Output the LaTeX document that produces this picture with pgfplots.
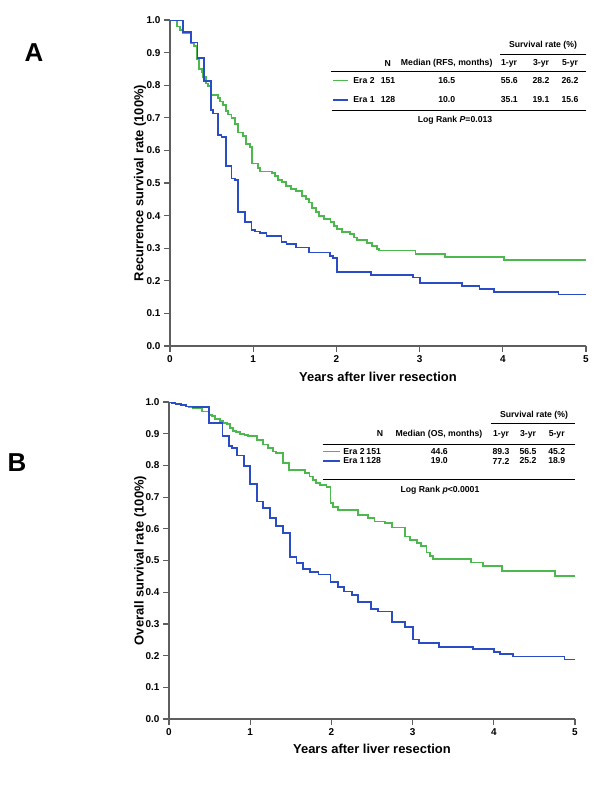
\documentclass[border=0pt]{standalone}
\usepackage{fontspec}
\setmainfont{Liberation Sans}
\usepackage{pgfplots}
\pgfplotsset{compat=1.18}

\definecolor{eratwo}{HTML}{4DB84E}
\definecolor{eraone}{HTML}{2A4CC6}
\definecolor{axgray}{HTML}{5E5E5E}

% Kaplan-Meier estimates: time (years), survival
\pgfplotstableread{
t s
0 1.000
0.08 0.980
0.12 0.970
0.16 0.960
0.25 0.930
0.29 0.920
0.32 0.880
0.35 0.850
0.38 0.840
0.40 0.825
0.43 0.805
0.46 0.797
0.49 0.770
0.58 0.760
0.60 0.750
0.64 0.740
0.67 0.720
0.70 0.710
0.74 0.700
0.78 0.680
0.82 0.655
0.88 0.645
0.91 0.620
0.96 0.610
0.99 0.560
1.06 0.546
1.08 0.535
1.23 0.530
1.26 0.521
1.30 0.508
1.35 0.503
1.39 0.490
1.45 0.482
1.51 0.475
1.59 0.460
1.63 0.452
1.67 0.440
1.71 0.424
1.75 0.410
1.79 0.398
1.85 0.390
1.93 0.380
1.97 0.368
2.01 0.358
2.07 0.350
2.16 0.343
2.21 0.333
2.25 0.325
2.37 0.317
2.43 0.307
2.49 0.297
2.51 0.293
2.95 0.283
3.31 0.274
4.01 0.264
5.00 0.264
}\rfstwo

\pgfplotstableread{
t s
0 1.000
0.16 0.962
0.25 0.931
0.33 0.883
0.41 0.812
0.49 0.723
0.52 0.713
0.58 0.648
0.62 0.640
0.67 0.551
0.74 0.514
0.78 0.509
0.82 0.412
0.90 0.381
0.98 0.356
1.02 0.351
1.08 0.346
1.16 0.337
1.34 0.319
1.40 0.312
1.51 0.302
1.67 0.287
1.92 0.276
1.96 0.271
2.01 0.227
2.42 0.219
2.92 0.210
3.00 0.193
3.51 0.185
3.72 0.176
3.89 0.166
4.67 0.158
5.00 0.158
}\rfsone

\pgfplotstableread{
t s
0 1.000
0.03 0.997
0.08 0.993
0.15 0.990
0.21 0.986
0.25 0.983
0.29 0.981
0.41 0.970
0.49 0.960
0.53 0.955
0.57 0.947
0.63 0.940
0.67 0.934
0.71 0.930
0.75 0.918
0.79 0.908
0.83 0.905
0.87 0.900
0.93 0.897
0.97 0.894
1.08 0.881
1.16 0.866
1.22 0.855
1.28 0.844
1.32 0.839
1.40 0.807
1.48 0.786
1.67 0.776
1.73 0.765
1.77 0.755
1.81 0.744
1.86 0.739
1.94 0.733
1.99 0.681
2.02 0.670
2.08 0.660
2.33 0.644
2.45 0.634
2.53 0.623
2.66 0.618
2.75 0.604
2.91 0.576
2.97 0.565
3.05 0.555
3.10 0.546
3.17 0.525
3.21 0.515
3.25 0.504
3.72 0.494
3.87 0.483
4.10 0.468
4.75 0.451
5.00 0.451
}\ostwo

\pgfplotstableread{
t s
0 1.000
0.03 0.997
0.08 0.993
0.15 0.990
0.21 0.986
0.29 0.983
0.49 0.934
0.66 0.894
0.74 0.862
0.78 0.855
0.84 0.831
0.92 0.797
1.00 0.742
1.08 0.686
1.16 0.665
1.24 0.633
1.32 0.610
1.40 0.586
1.49 0.512
1.57 0.491
1.65 0.472
1.74 0.465
1.84 0.456
1.99 0.433
2.08 0.417
2.16 0.402
2.25 0.390
2.33 0.370
2.49 0.346
2.57 0.339
2.75 0.306
2.91 0.291
3.00 0.251
3.08 0.241
3.33 0.228
3.74 0.220
4.00 0.212
4.08 0.205
4.24 0.197
4.87 0.188
5.00 0.188
}\osone

\pgfplotsset{
  km/.style={
    scale only axis,
    xmin=0, xmax=5, ymin=0, ymax=1,
    axis x line*=bottom, axis y line*=left,
    axis line style={axgray, line width=1.4bp},
    tick style={axgray, line width=1.2bp},
    tick align=outside, major tick length=6bp,
    xtick={0,...,5},
    ytick={0,0.1,...,1.0},
    yticklabel style={/pgf/number format/.cd, fixed, fixed zerofill, precision=1},
    ticklabel style={font=\fontsize{10}{12}\selectfont\bfseries},
    /pgf/number format/assume math mode=true,
    label style={font=\fontsize{13}{15}\selectfont\bfseries},
    every axis plot/.append style={const plot, no marks, line width=1.8bp},
  },
}

\newcommand{\tx}[3]{\node[font=\fontsize{8.7}{10}\selectfont\bfseries, inner sep=0pt] at (#1bp,-#2bp) {#3};}

\begin{document}
\begin{tikzpicture}
\useasboundingbox (0,0) rectangle (600bp,-806bp);

% ---------- panel A ----------
\node[font=\fontsize{26}{28}\selectfont\bfseries, inner sep=0pt] at (34bp,-53bp) {A};
\begin{axis}[km,
    at={(170bp,-346bp)}, anchor=south west,
    width=416bp, height=326bp,
    xlabel={Years after liver resection},
    ylabel={Recurrence survival rate (100\%)},
    xlabel style={at={(axis description cs:0.5,-0.095)}, anchor=center},
    ylabel style={at={(axis description cs:-0.072,0.5)}, anchor=center},
]
\addplot[eratwo] table[x=t, y=s] {\rfstwo};
\addplot[eraone] table[x=t, y=s] {\rfsone};
\end{axis}

\tx{543}{45.7}{Survival rate (\%)}
\draw[line width=0.8bp] (500bp,-54.3bp) -- (586bp,-54.3bp);
\tx{387.7}{63.3}{N}
\tx{446.7}{63.3}{Median (RFS, months)}
\tx{509}{63.3}{1-yr}
\tx{541}{63.3}{3-yr}
\tx{570}{63.3}{5-yr}
\draw[line width=0.8bp] (330.7bp,-71.7bp) -- (586bp,-71.7bp);
\draw[eratwo, line width=1.5bp] (333bp,-80.7bp) -- (348bp,-80.7bp);
\tx{364}{80.7}{Era 2}
\tx{388}{80.7}{151}
\tx{446.7}{80.7}{16.5}
\tx{509.3}{80.7}{55.6}
\tx{541}{80.7}{28.2}
\tx{570}{80.7}{26.2}
\draw[eraone, line width=1.5bp] (333bp,-100bp) -- (348bp,-100bp);
\tx{364}{100}{Era 1}
\tx{388}{100}{128}
\tx{446.7}{100}{10.0}
\tx{509.3}{100}{35.1}
\tx{541}{100}{19.1}
\tx{570}{100}{15.6}
\draw[line width=0.8bp] (331.7bp,-110bp) -- (586bp,-110bp);
\tx{455}{120.7}{Log Rank \textit{P}=0.013}

% ---------- panel B ----------
\node[font=\fontsize{26}{28}\selectfont\bfseries, inner sep=0pt] at (17bp,-462.5bp) {B};
\begin{axis}[km,
    at={(169bp,-719bp)}, anchor=south west,
    width=406bp, height=317bp,
    xlabel={Years after liver resection},
    ylabel={Overall survival rate (100\%)},
    xlabel style={at={(axis description cs:0.5,-0.095)}, anchor=center},
    ylabel style={at={(axis description cs:-0.071,0.5)}, anchor=center},
]
\addplot[eratwo] table[x=t, y=s] {\ostwo};
\addplot[eraone] table[x=t, y=s] {\osone};
\end{axis}

\tx{534}{415}{Survival rate (\%)}
\draw[line width=0.8bp] (490.7bp,-423.3bp) -- (575bp,-423.3bp);
\tx{380}{434}{N}
\tx{439}{434}{Median (OS, months)}
\tx{501}{434}{1-yr}
\tx{528}{434}{3-yr}
\tx{556.7}{434}{5-yr}
\draw[line width=0.8bp] (322.7bp,-444.3bp) -- (575bp,-444.3bp);
\draw[eratwo, line width=1.5bp] (323bp,-451.7bp) -- (340bp,-451.7bp);
\tx{354}{451.7}{Era 2}
\tx{373.7}{451.7}{151}
\tx{439.3}{451.7}{44.6}
\tx{501}{451.7}{89.3}
\tx{528}{451.7}{56.5}
\tx{556.7}{451.7}{45.2}
\draw[eraone, line width=1.5bp] (323bp,-461bp) -- (340bp,-461bp);
\tx{354}{461}{Era 1}
\tx{373.7}{461}{128}
\tx{439.3}{461}{19.0}
\tx{501}{461}{77.2}
\tx{528}{461}{25.2}
\tx{556.7}{461}{18.9}
\draw[line width=0.8bp] (322.7bp,-479.3bp) -- (575bp,-479.3bp);
\tx{440}{490.7}{Log Rank \textit{p}<0.0001}
\end{tikzpicture}
\end{document}
